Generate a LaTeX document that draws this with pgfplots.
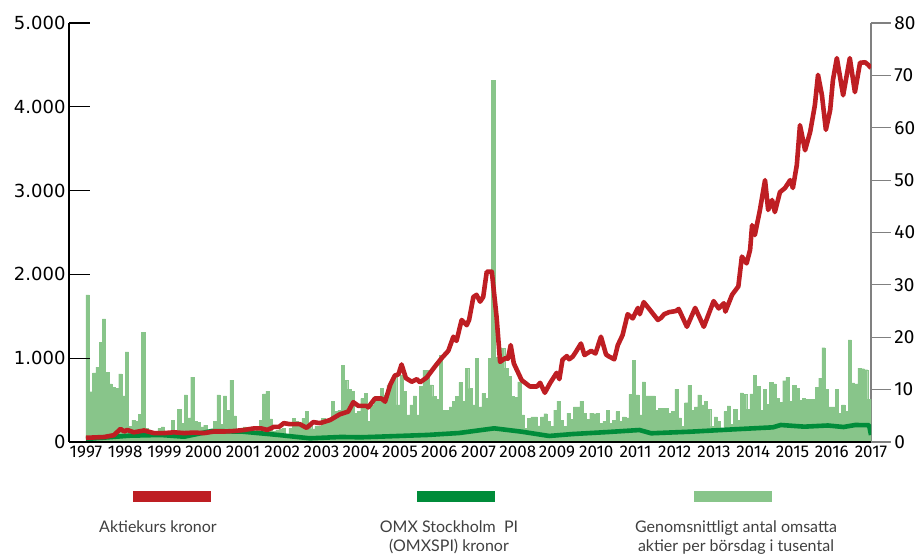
\documentclass[border=0pt]{standalone}
\usepackage{pgfplots}
\pgfplotsset{compat=1.18}
\usepackage{pgfplotstable}
\usepackage{fontspec}
\setmainfont{Fira Sans}
\newfontfamily\tickfont{Fira Sans}
\newfontfamily\leftfont{DejaVu Sans}
\newfontfamily\legfont{Lato}
\definecolor{redc}{RGB}{190,30,35}
\definecolor{greenc}{RGB}{0,140,58}
\definecolor{barc}{RGB}{136,197,138}
\definecolor{axgray}{RGB}{128,128,128}
\definecolor{legtext}{RGB}{64,64,64}

% monthly average traded shares (thousands), Jan 1997 - Dec 2016
\pgfplotstableread[row sep=\\]{
v\\
28.1\\9.6\\13.2\\14.3\\19.0\\23.5\\13.3\\11.1\\10.5\\10.2\\13.0\\8.8\\
17.2\\3.0\\4.2\\4.0\\5.3\\21.0\\2.6\\2.0\\1.8\\2.0\\2.6\\2.9\\
1.8\\1.8\\4.2\\1.8\\6.3\\3.6\\9.0\\4.6\\12.4\\4.0\\3.7\\2.9\\
3.2\\1.6\\1.8\\4.0\\9.0\\3.4\\8.8\\6.0\\11.8\\5.0\\2.0\\2.0\\
2.9\\2.0\\2.0\\2.0\\2.6\\4.2\\9.2\\9.7\\4.4\\2.0\\2.2\\2.5\\
2.6\\1.5\\2.6\\4.5\\4.0\\3.0\\4.5\\5.8\\3.0\\2.5\\3.1\\3.0\\
4.5\\3.9\\3.9\\7.8\\5.8\\6.1\\14.7\\11.8\\10.1\\9.7\\5.5\\5.8\\
8.3\\9.3\\3.9\\7.1\\8.7\\7.8\\10.2\\9.0\\10.9\\11.8\\12.8\\7.1\\
12.8\\9.7\\5.2\\7.1\\8.8\\5.2\\10.6\\13.7\\13.7\\10.9\\8.7\\8.1\\
16.6\\6.1\\6.1\\6.7\\7.8\\8.7\\11.4\\7.8\\14.1\\10.2\\7.1\\16.0\\
6.7\\9.3\\8.3\\16.0\\69.1\\16.2\\16.2\\17.9\\14.1\\12.5\\8.7\\8.5\\
11.5\\5.2\\2.6\\4.5\\4.8\\4.8\\3.1\\4.8\\5.4\\3.9\\3.0\\6.1\\
7.8\\4.2\\3.0\\5.5\\4.3\\6.7\\6.7\\7.8\\5.5\\4.3\\5.5\\5.4\\
5.5\\3.6\\4.0\\6.0\\3.6\\4.2\\5.8\\4.0\\4.8\\4.6\\9.1\\15.6\\
9.0\\5.2\\11.5\\8.8\\8.8\\8.8\\6.1\\6.4\\6.4\\6.4\\5.5\\5.8\\
10.1\\4.6\\3.0\\7.5\\10.8\\6.0\\6.7\\9.0\\7.1\\7.8\\6.3\\3.0\\
4.8\\4.0\\2.6\\5.8\\6.9\\3.4\\6.3\\4.2\\9.4\\9.1\\6.3\\9.2\\
12.7\\10.6\\6.1\\10.1\\7.2\\11.4\\11.1\\8.3\\7.6\\11.7\\12.4\\7.8\\
10.8\\10.2\\8.0\\8.3\\8.2\\8.2\\8.2\\10.4\\12.2\\18.0\\10.1\\6.7\\
6.7\\10.1\\5.5\\7.1\\5.8\\19.5\\11.3\\11.1\\14.1\\14.0\\13.8\\8.2\\
}\bars

% share price (kronor, right axis)
\pgfplotstableread{
t v
1997.00 0.8
1997.46 0.95
1997.71 1.3
1997.88 2.5
1997.97 2.0
1998.05 2.3
1998.22 1.85
1998.48 2.2
1998.73 1.7
1998.99 1.7
1999.24 1.85
1999.50 1.7
1999.75 1.8
2000.01 1.7
2000.26 2.0
2000.52 2.0
2000.77 2.1
2001.03 2.3
2001.28 2.6
2001.46 2.6
2001.62 2.3
2001.79 2.9
2001.92 2.9
2002.04 3.6
2002.20 3.4
2002.45 3.4
2002.62 2.7
2002.79 3.8
2002.96 3.6
2003.22 4.2
2003.47 5.3
2003.68 5.8
2003.81 7.6
2003.94 6.9
2004.15 6.9
2004.19 6.6
2004.36 8.3
2004.53 8.3
2004.62 7.7
2004.75 10.9
2004.87 12.7
2004.96 12.9
2005.04 14.8
2005.15 12.2
2005.30 11.5
2005.43 12.0
2005.51 11.4
2005.68 12.3
2005.81 13.6
2005.89 14.4
2006.06 16.0
2006.23 17.4
2006.36 20.1
2006.44 19.3
2006.57 23.3
2006.70 22.3
2006.76 23.3
2006.87 27.7
2006.95 28.1
2007.04 26.8
2007.12 27.7
2007.21 32.5
2007.34 32.5
2007.46 23.9
2007.55 15.3
2007.68 16.0
2007.75 15.9
2007.82 18.5
2007.90 15.0
2008.10 11.8
2008.31 10.6
2008.49 10.6
2008.57 11.3
2008.69 9.4
2008.82 11.2
2008.99 13.2
2009.06 12.0
2009.14 15.7
2009.25 16.4
2009.31 15.8
2009.40 16.3
2009.48 17.2
2009.61 18.8
2009.70 16.6
2009.87 17.4
2009.98 16.9
2010.12 20.1
2010.25 16.7
2010.33 16.3
2010.46 15.8
2010.55 18.5
2010.67 20.4
2010.80 24.4
2010.93 23.6
2011.06 25.6
2011.11 24.4
2011.21 26.7
2011.35 25.4
2011.57 23.3
2011.65 23.7
2011.73 24.4
2011.86 24.8
2012.03 25.0
2012.10 25.4
2012.31 22.0
2012.52 25.6
2012.74 22.0
2012.99 26.9
2013.12 25.5
2013.25 26.5
2013.29 24.9
2013.46 28.1
2013.62 29.7
2013.71 35.4
2013.83 34.1
2013.92 36.7
2013.97 41.4
2014.04 39.5
2014.17 44.3
2014.30 50.0
2014.38 44.3
2014.48 46.2
2014.55 43.9
2014.68 47.7
2014.81 48.5
2014.94 50.0
2015.01 48.5
2015.11 52.9
2015.19 60.5
2015.32 55.7
2015.45 59.2
2015.57 64.3
2015.65 70.1
2015.75 66.2
2015.85 59.6
2015.96 63.4
2016.03 69.1
2016.13 73.3
2016.29 66.2
2016.46 73.3
2016.59 66.8
2016.72 72.4
2016.85 72.5
2016.93 72.0
2017.00 71.4
}\price

% OMX Stockholm PI (left axis)
\pgfplotstableread{
t v
1997.00 36
1998.10 75
1998.90 84
1999.50 63
2000.20 131
2001.00 123
2001.90 84
2002.70 44
2003.50 60
2004.00 56
2005.70 84
2006.50 107
2007.40 163
2008.10 123
2008.80 72
2009.40 95
2010.30 119
2011.10 143
2011.40 104
2012.40 123
2013.50 151
2014.50 175
2014.70 203
2015.30 183
2015.90 197
2016.30 179
2016.60 203
2016.95 200
2017.00 84
}\omx

\begin{document}
\begin{tikzpicture}
\useasboundingbox (0bp,0bp) rectangle (918bp,555bp);

% data axis (right scale 0-80)
\begin{axis}[
  at={(69bp,113bp)}, anchor=south west,
  scale only axis, width=802bp, height=419bp,
  xmin=1996.567, xmax=2017, ymin=0, ymax=80,
  axis x line=none, axis y line*=right,
  y axis line style={draw=axgray, line width=1.2bp, -},
  ytick={0,10,...,80},
  ytick style={draw=axgray, line width=1.2bp},
  tick align=outside, major tick length=20bp,
  /pgf/number format/assume math mode=true,
  yticklabel style={font=\tickfont\fontsize{19bp}{22bp}\selectfont, text=black},
]
\addplot[ybar, bar width=0.0833, fill=barc, draw=barc, line width=0.3bp]
  table[x expr=1997+(\coordindex+0.5)/12, y=v] {\bars};
\addplot[greenc, line width=4.6bp, line join=round] table[x=t, y expr=\thisrow{v}*0.016] {\omx};
\addplot[redc, line width=4.6bp, line join=round] table[x=t, y=v] {\price};
\end{axis}

% left scale axis and x axis
\begin{axis}[
  at={(69bp,113bp)}, anchor=south west,
  scale only axis, width=802bp, height=419bp,
  xmin=1996.567, xmax=2017, ymin=0, ymax=5000,
  axis x line*=bottom, axis y line*=left,
  axis line style={black, line width=1.3bp, -},
  ytick={0,1000,...,5000}, scaled y ticks=false,
  ytick style={draw=black, line width=1.2bp},
  tick align=inside, major tick length=21bp,
  xtick={1997,1998,...,2017}, xtick style={draw=none},
  /pgf/number format/assume math mode=true,
  yticklabel style={font=\leftfont\fontsize{18bp}{21bp}\selectfont, text=black,
     /pgf/number format/.cd, 1000 sep={.}},
  xticklabel style={font=\tickfont\fontsize{17bp}{20bp}\selectfont, text=black,
     /pgf/number format/.cd, 1000 sep={}},
]
\end{axis}

% legend
\fill[redc] (133bp,53bp) rectangle (211bp,64bp);
\fill[greenc] (417bp,53bp) rectangle (495bp,64bp);
\fill[barc] (694bp,53bp) rectangle (772bp,64bp);
\begin{scope}[every node/.style={anchor=base, inner sep=0pt, text=legtext,
   font=\legfont\fontsize{16bp}{19bp}\selectfont}]
\node at (158bp,23bp) {Aktiekurs kronor};
\node at (449bp,23bp) {OMX Stockholm\ \ PI};
\node at (449bp,4bp) {(OMXSPI) kronor};
\node at (736bp,23bp) {Genomsnittligt antal omsatta};
\node at (736bp,4bp) {aktier per börsdag i tusental};
\end{scope}
\end{tikzpicture}
\end{document}
